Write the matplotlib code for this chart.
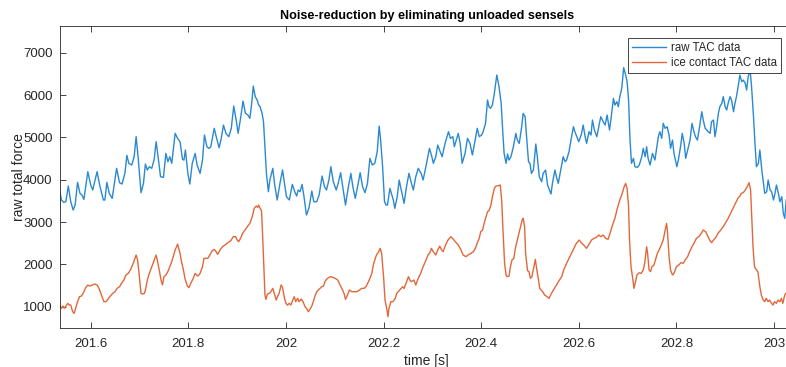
import matplotlib
matplotlib.use("Agg")
import matplotlib.pyplot as plt

plt.rcParams['font.family'] = ['Liberation Sans', 'DejaVu Sans']

# raw TAC data: (time [s], raw total force)
raw_t = [201.536, 201.540, 201.545, 201.549, 201.554, 201.559, 201.564, 201.568, 201.573, 201.578,
         201.582, 201.586, 201.594, 201.600, 201.604, 201.613, 201.619, 201.626, 201.629, 201.633,
         201.638, 201.644, 201.653, 201.659, 201.664, 201.670, 201.674, 201.678, 201.684, 201.689,
         201.693, 201.697, 201.703, 201.708, 201.712, 201.716, 201.720, 201.725, 201.730, 201.734,
         201.738, 201.743, 201.749, 201.754, 201.758, 201.762, 201.766, 201.773, 201.778, 201.783,
         201.788, 201.791, 201.794, 201.799, 201.803, 201.808, 201.814, 201.818, 201.824, 201.829,
         201.833, 201.838, 201.842, 201.846, 201.853, 201.858, 201.863, 201.867, 201.872, 201.877,
         201.883, 201.888, 201.893, 201.898, 201.902, 201.907, 201.912, 201.917, 201.922, 201.926,
         201.930, 201.933, 201.937, 201.941, 201.944, 201.947, 201.951, 201.954, 201.957, 201.960,
         201.964, 201.967, 201.973, 201.977, 201.982, 201.988, 201.993, 201.997, 202.001, 202.007,
         202.013, 202.018, 202.022, 202.025, 202.029, 202.033, 202.037, 202.042, 202.047, 202.053,
         202.057, 202.063, 202.068, 202.074, 202.079, 202.083, 202.088, 202.092, 202.097, 202.103,
         202.107, 202.112, 202.118, 202.122, 202.128, 202.133, 202.137, 202.142, 202.148, 202.152,
         202.157, 202.162, 202.167, 202.172, 202.177, 202.182, 202.187, 202.191, 202.194, 202.198,
         202.202, 202.205, 202.208, 202.213, 202.220, 202.223, 202.228, 202.232, 202.237, 202.242,
         202.247, 202.252, 202.258, 202.261, 202.266, 202.271, 202.277, 202.281, 202.286, 202.294,
         202.299, 202.302, 202.307, 202.311, 202.316, 202.320, 202.326, 202.333, 202.337, 202.342,
         202.345, 202.348, 202.353, 202.357, 202.361, 202.367, 202.372, 202.377, 202.382, 202.387,
         202.392, 202.396, 202.401, 202.404, 202.409, 202.413, 202.416, 202.419, 202.423, 202.427,
         202.432, 202.436, 202.441, 202.444, 202.447, 202.451, 202.454, 202.457, 202.461, 202.466,
         202.471, 202.474, 202.478, 202.483, 202.486, 202.490, 202.493, 202.497, 202.500, 202.503,
         202.507, 202.512, 202.515, 202.519, 202.524, 202.527, 202.532, 202.536, 202.540, 202.543,
         202.546, 202.551, 202.555, 202.558, 202.563, 202.568, 202.572, 202.575, 202.580, 202.584,
         202.589, 202.592, 202.596, 202.600, 202.605, 202.609, 202.613, 202.616, 202.621, 202.625,
         202.628, 202.632, 202.637, 202.641, 202.645, 202.650, 202.654, 202.658, 202.663, 202.667,
         202.671, 202.674, 202.678, 202.681, 202.684, 202.688, 202.692, 202.696, 202.699, 202.702,
         202.705, 202.708, 202.712, 202.715, 202.720, 202.724, 202.729, 202.732, 202.736, 202.739,
         202.742, 202.746, 202.751, 202.756, 202.760, 202.763, 202.766, 202.770, 202.773, 202.777,
         202.781, 202.785, 202.788, 202.792, 202.795, 202.801, 202.804, 202.809, 202.812, 202.816,
         202.819, 202.823, 202.828, 202.832, 202.836, 202.839, 202.843, 202.847, 202.852, 202.855,
         202.859, 202.862, 202.865, 202.869, 202.872, 202.876, 202.879, 202.882, 202.886, 202.889,
         202.893, 202.896, 202.900, 202.903, 202.906, 202.910, 202.913, 202.917, 202.920, 202.923,
         202.927, 202.930, 202.934, 202.937, 202.941, 202.944, 202.947, 202.951, 202.954, 202.958,
         202.961, 202.964, 202.968, 202.971, 202.975, 202.978, 202.981, 202.985, 202.988, 202.992,
         202.995, 202.999, 203.002, 203.005, 203.009, 203.012, 203.016, 203.019, 203.022, 203.025]
raw_force = [3756, 3520, 3464, 3480, 3850, 3480, 3283, 3401, 3937, 3677,
             3638, 3535, 4189, 3874, 3756, 4189, 3835, 3520, 3520, 3937,
             3677, 3559, 4268, 3929, 3898, 4149, 4575, 4386, 4346, 4543,
             5016, 4543, 3693, 3913, 4370, 4228, 4307, 4268, 4480, 4898,
             4543, 4071, 4055, 4622, 4425, 4543, 4386, 5094, 4976, 4898,
             4480, 4464, 4701, 4149, 3898, 4386, 4622, 4346, 4149, 4464,
             5055, 4779, 4740, 4779, 5213, 4976, 4756, 4952, 5291, 5094,
             5016, 5213, 5740, 5409, 5094, 5449, 5858, 5567, 5528, 5449,
             5819, 6212, 5961, 5882, 5764, 5724, 5567, 5370, 4740, 4149,
             3716, 3992, 4268, 3874, 3520, 3929, 4228, 3913, 3598, 3520,
             3890, 3716, 3614, 3756, 3716, 3890, 3598, 3165, 3323, 3732,
             3480, 3480, 3638, 4087, 3835, 3756, 3992, 4307, 3953, 3756,
             3913, 4165, 3716, 3401, 3835, 4149, 3835, 3559, 3913, 4165,
             3835, 3693, 3913, 4504, 4346, 4386, 4661, 5268, 4937, 4307,
             3480, 3401, 3401, 3795, 3520, 3323, 3598, 3992, 3716, 3441,
             3835, 4149, 3874, 3756, 4071, 4268, 4149, 3992, 4268, 4740,
             4543, 4386, 4543, 4819, 4661, 4543, 4858, 5134, 4976, 5016,
             4779, 4898, 5094, 4858, 4386, 4622, 4976, 4858, 4583, 4898,
             5213, 5016, 5055, 5134, 5331, 5882, 5724, 5685, 5764, 6039,
             6472, 6236, 5803, 5173, 4622, 4386, 4606, 4464, 4543, 4779,
             5094, 4937, 4858, 5252, 5567, 5488, 5016, 4425, 4386, 4149,
             4228, 4843, 4543, 4071, 3953, 4149, 4228, 3874, 3756, 3661,
             3913, 4228, 4031, 3913, 4228, 4543, 4425, 4464, 4661, 4937,
             5252, 5134, 5016, 4898, 5055, 5291, 5016, 4858, 5134, 5055,
             5409, 5173, 5016, 5252, 5488, 5370, 5291, 5528, 5173, 5528,
             5921, 5764, 5842, 5724, 5961, 6157, 6646, 6472, 6315, 5882,
             4937, 4386, 4504, 4307, 4291, 4346, 4543, 4740, 4543, 4779,
             4504, 4346, 4622, 4464, 4779, 5016, 5134, 4976, 5331, 5213,
             5252, 5055, 4740, 4937, 4622, 4307, 4464, 4819, 5094, 4858,
             4504, 4701, 4937, 5331, 5134, 5016, 4937, 5213, 5606, 5409,
             5213, 5173, 5134, 5094, 5370, 5409, 5016, 5213, 5567, 5724,
             5803, 5961, 5724, 5646, 5803, 5961, 5882, 5606, 5803, 5961,
             6236, 6472, 6315, 6354, 6276, 6118, 6433, 6590, 6197, 5488,
             4858, 4307, 4386, 4701, 4228, 3953, 3677, 3716, 3992, 3756,
             3716, 3520, 3677, 3874, 3677, 3480, 3598, 3205, 3087, 3520]

# ice contact TAC data: (time [s], raw total force)
ice_t = [201.536, 201.540, 201.543, 201.546, 201.549, 201.553, 201.556, 201.559, 201.563, 201.566,
         201.568, 201.573, 201.577, 201.581, 201.586, 201.590, 201.594, 201.598, 201.603, 201.608,
         201.613, 201.617, 201.622, 201.627, 201.631, 201.634, 201.639, 201.645, 201.650, 201.654,
         201.659, 201.663, 201.668, 201.672, 201.677, 201.682, 201.687, 201.693, 201.696, 201.699,
         201.703, 201.706, 201.710, 201.712, 201.716, 201.719, 201.723, 201.727, 201.730, 201.734,
         201.737, 201.741, 201.744, 201.747, 201.750, 201.754, 201.758, 201.762, 201.766, 201.769,
         201.773, 201.778, 201.783, 201.786, 201.790, 201.793, 201.798, 201.801, 201.805, 201.810,
         201.814, 201.817, 201.820, 201.824, 201.829, 201.832, 201.836, 201.840, 201.844, 201.849,
         201.853, 201.857, 201.860, 201.865, 201.870, 201.875, 201.881, 201.887, 201.892, 201.897,
         201.900, 201.903, 201.907, 201.911, 201.916, 201.921, 201.926, 201.931, 201.935, 201.939,
         201.942, 201.944, 201.947, 201.950, 201.952, 201.955, 201.957, 201.959, 201.962, 201.966,
         201.969, 201.973, 201.976, 201.980, 201.982, 201.986, 201.990, 201.993, 201.997, 202.000,
         202.003, 202.007, 202.010, 202.014, 202.017, 202.020, 202.024, 202.027, 202.031, 202.035,
         202.039, 202.042, 202.046, 202.049, 202.053, 202.056, 202.059, 202.063, 202.066, 202.070,
         202.073, 202.077, 202.080, 202.083, 202.087, 202.092, 202.096, 202.101, 202.106, 202.111,
         202.116, 202.119, 202.122, 202.126, 202.130, 202.135, 202.140, 202.145, 202.151, 202.155,
         202.160, 202.164, 202.169, 202.172, 202.176, 202.179, 202.183, 202.186, 202.189, 202.193,
         202.196, 202.200, 202.203, 202.207, 202.209, 202.211, 202.215, 202.219, 202.224, 202.227,
         202.233, 202.239, 202.242, 202.246, 202.251, 202.254, 202.257, 202.262, 202.266, 202.271,
         202.276, 202.281, 202.287, 202.291, 202.295, 202.298, 202.302, 202.307, 202.311, 202.315,
         202.319, 202.322, 202.327, 202.332, 202.338, 202.343, 202.347, 202.353, 202.358, 202.363,
         202.369, 202.373, 202.379, 202.384, 202.388, 202.393, 202.396, 202.399, 202.403, 202.406,
         202.410, 202.413, 202.416, 202.420, 202.423, 202.427, 202.430, 202.435, 202.439, 202.442,
         202.445, 202.448, 202.451, 202.453, 202.457, 202.460, 202.463, 202.467, 202.470, 202.474,
         202.479, 202.484, 202.486, 202.489, 202.491, 202.495, 202.498, 202.501, 202.504, 202.508,
         202.511, 202.513, 202.517, 202.520, 202.526, 202.530, 202.535, 202.539, 202.544, 202.550,
         202.554, 202.559, 202.565, 202.569, 202.575, 202.580, 202.585, 202.590, 202.595, 202.601,
         202.605, 202.610, 202.616, 202.620, 202.626, 202.631, 202.636, 202.641, 202.645, 202.650,
         202.655, 202.660, 202.664, 202.668, 202.674, 202.679, 202.684, 202.689, 202.693, 202.696,
         202.699, 202.702, 202.704, 202.707, 202.710, 202.713, 202.717, 202.719, 202.724, 202.728,
         202.732, 202.735, 202.739, 202.741, 202.744, 202.747, 202.750, 202.754, 202.757, 202.761,
         202.766, 202.769, 202.773, 202.777, 202.780, 202.782, 202.785, 202.788, 202.792, 202.795,
         202.800, 202.805, 202.809, 202.814, 202.818, 202.823, 202.827, 202.832, 202.836, 202.841,
         202.846, 202.851, 202.855, 202.860, 202.865, 202.868, 202.872, 202.876, 202.881, 202.885,
         202.891, 202.896, 202.900, 202.906, 202.911, 202.916, 202.921, 202.926, 202.930, 202.933,
         202.937, 202.941, 202.945, 202.949, 202.952, 202.954, 202.957, 202.960, 202.964, 202.967,
         202.971, 202.974, 202.978, 202.981, 202.984, 202.988, 202.991, 202.995, 202.998, 203.001,
         203.005, 203.008, 203.012, 203.015, 203.018, 203.022, 203.024]
ice_force = [1016, 961, 1016, 961, 1016, 1079, 1039, 1039, 882, 842,
             921, 1118, 1236, 1252, 1354, 1457, 1512, 1488, 1512, 1535,
             1512, 1433, 1276, 1118, 1118, 1157, 1236, 1315, 1354, 1433,
             1472, 1551, 1630, 1748, 1787, 1882, 2024, 2220, 2102, 1787,
             1315, 1299, 1315, 1394, 1630, 1748, 1882, 2000, 2102, 2220,
             2063, 1827, 1630, 1512, 1709, 1748, 1827, 1945, 2063, 2181,
             2339, 2480, 2260, 2063, 1866, 1669, 1488, 1449, 1551, 1669,
             1787, 1748, 1724, 1787, 1945, 2142, 2142, 2142, 2220, 2323,
             2354, 2299, 2236, 2339, 2417, 2457, 2512, 2559, 2653, 2653,
             2575, 2535, 2614, 2732, 2811, 2890, 2968, 3126, 3323, 3378,
             3346, 3401, 3323, 3268, 2732, 1866, 1276, 1173, 1299, 1315,
             1354, 1433, 1315, 1157, 1220, 1315, 1512, 1457, 1197, 1079,
             1039, 1079, 1039, 1157, 1236, 1118, 1197, 1118, 1181, 1118,
             1000, 961, 882, 937, 1016, 1118, 1236, 1354, 1394, 1433,
             1472, 1488, 1590, 1646, 1685, 1709, 1693, 1669, 1630, 1512,
             1394, 1315, 1173, 1276, 1394, 1354, 1354, 1354, 1394, 1433,
             1433, 1472, 1590, 1669, 1787, 1984, 2142, 2236, 2276, 2378,
             2260, 1709, 1157, 921, 764, 961, 1118, 1118, 1197, 1315,
             1394, 1472, 1433, 1551, 1709, 1630, 1590, 1630, 1512, 1669,
             1787, 1945, 2102, 2220, 2276, 2378, 2299, 2220, 2339, 2433,
             2339, 2299, 2457, 2575, 2653, 2591, 2535, 2457, 2354, 2220,
             2181, 2220, 2260, 2299, 2378, 2535, 2614, 2771, 2811, 2968,
             3126, 3244, 3268, 3401, 3598, 3795, 3850, 3858, 3874, 3520,
             2732, 2024, 1748, 1709, 1724, 1945, 2102, 2142, 2378, 2575,
             2811, 3047, 3087, 2890, 2260, 1850, 1827, 1669, 1709, 1945,
             2118, 1945, 1669, 1433, 1354, 1276, 1236, 1197, 1315, 1433,
             1512, 1606, 1709, 1866, 2024, 2142, 2260, 2378, 2496, 2575,
             2512, 2457, 2378, 2457, 2575, 2614, 2638, 2693, 2653, 2693,
             2614, 2591, 2732, 2890, 3087, 3323, 3520, 3677, 3835, 3913,
             3795, 3362, 2575, 1945, 1709, 1433, 1630, 1748, 1803, 1787,
             1866, 2024, 2417, 2260, 1866, 1827, 1945, 1984, 2102, 2260,
             2378, 2457, 2575, 2811, 2968, 2732, 2181, 1866, 1748, 1787,
             1945, 1984, 2039, 2024, 2102, 2181, 2299, 2417, 2496, 2614,
             2653, 2732, 2811, 2771, 2653, 2575, 2512, 2575, 2638, 2732,
             2811, 2890, 2968, 3087, 3205, 3323, 3441, 3559, 3614, 3677,
             3693, 3756, 3835, 3929, 3756, 3205, 2417, 1945, 1866, 1827,
             1472, 1276, 1157, 1118, 1197, 1118, 1157, 1079, 1039, 1118,
             1079, 1157, 1118, 1197, 1079, 1276, 1315]

x_ticks = [201.6, 201.8, 202.0, 202.2, 202.4, 202.6, 202.8, 203.0]
x_tick_labels = ['201.6', '201.8', '202', '202.2', '202.4', '202.6', '202.8', '203']
y_ticks = [1000, 2000, 3000, 4000, 5000, 6000, 7000]

BLUE = '#2a89d1'
ORANGE = '#e2673a'
AX_COLOR = '#262626'

fig = plt.figure(figsize=(7.86, 3.67), dpi=100)
# the axes box runs slightly past the right edge of the canvas
ax = fig.add_axes([0.0757, 0.1055, 0.9345, 0.8236])

ax.plot(raw_t, raw_force, color=BLUE, lw=1.0, label='raw TAC data')
ax.plot(ice_t, ice_force, color=ORANGE, lw=1.0, label='ice contact TAC data')

ax.set_xlim(201.536, 203.041)
ax.set_ylim(490, 7630)
ax.set_xticks(x_ticks)
ax.set_xticklabels(x_tick_labels)
ax.set_yticks(y_ticks)

ax.tick_params(axis='both', direction='in', length=4.5, width=0.6, color=AX_COLOR,
               labelcolor=AX_COLOR, labelsize=9.5, top=True, right=True)
ax.tick_params(axis='x', pad=7)
ax.tick_params(axis='y', pad=5)
for sp in ax.spines.values():
    sp.set_color(AX_COLOR)
    sp.set_linewidth(0.6)

ax.set_title('Noise-reduction by eliminating unloaded sensels', fontsize=9.1,
             fontweight='bold', color='black', pad=5)
ax.set_xlabel('time [s]', fontsize=10, color=AX_COLOR, labelpad=3)
ax.set_ylabel('raw total force', fontsize=10, color=AX_COLOR, labelpad=-2)

leg = ax.legend(loc='upper right', bbox_to_anchor=(0.9936, 0.8965),
                bbox_transform=fig.transFigure, fontsize=8.3, frameon=True,
                fancybox=False, framealpha=1, edgecolor=AX_COLOR,
                handlelength=3.0, handletextpad=0.4, borderpad=0.35,
                labelspacing=0.25, borderaxespad=0)
leg.get_frame().set_linewidth(0.6)
for txt in leg.get_texts():
    txt.set_color(AX_COLOR)

fig.savefig('out.png', dpi=100)
